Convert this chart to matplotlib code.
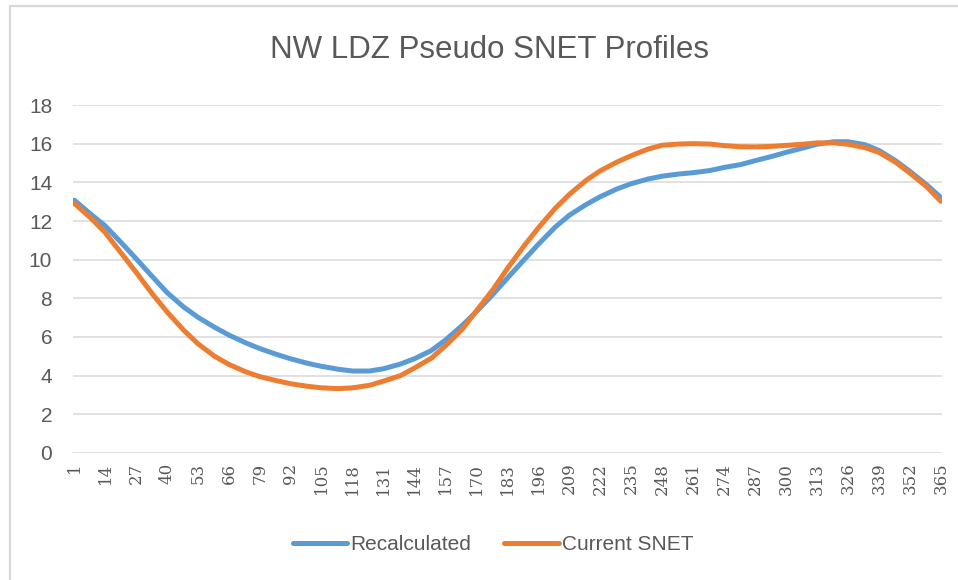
import matplotlib
matplotlib.use("Agg")
import matplotlib.pyplot as plt
from matplotlib.patches import Rectangle

# category labels on the x axis (every 13th day)
tick_days = list(range(1, 366, 13))

# days at which the two profiles are sampled
days = [1, 8, 14, 21, 27, 34, 40, 47, 53, 60, 66, 73, 79, 86, 92, 99, 105,
        112, 118, 125, 131, 138, 144, 151, 157, 164, 170, 177, 183, 190, 196,
        203, 209, 216, 222, 229, 235, 242, 248, 255, 261, 268, 274, 281, 287,
        294, 300, 307, 313, 320, 326, 333, 339, 346, 352, 359, 365]

recalculated = [13.08, 12.35, 11.75, 10.85, 10.05, 9.1, 8.3, 7.55, 7.02, 6.5,
                6.1, 5.7, 5.4, 5.1, 4.87, 4.64, 4.48, 4.33, 4.24, 4.24,
                4.36, 4.6, 4.88, 5.3, 5.85, 6.6, 7.32, 8.22, 9.05, 10.0,
                10.8, 11.68, 12.3, 12.85, 13.26, 13.66, 13.93, 14.17, 14.32,
                14.43, 14.5, 14.61, 14.77, 14.92, 15.12, 15.34, 15.55, 15.77,
                15.97, 16.1, 16.1, 15.95, 15.65, 15.12, 14.57, 13.88, 13.22]

current_snet = [12.92, 12.15, 11.4, 10.3, 9.35, 8.2, 7.3, 6.35, 5.65, 5.0,
                4.58, 4.2, 3.95, 3.74, 3.58, 3.45, 3.37, 3.33, 3.37, 3.5,
                3.72, 4.0, 4.4, 4.9, 5.55, 6.4, 7.36, 8.47, 9.55, 10.72,
                11.65, 12.65, 13.38, 14.1, 14.6, 15.05, 15.38, 15.72, 15.92,
                15.98, 16.0, 15.98, 15.9, 15.84, 15.83, 15.86, 15.91, 15.97,
                16.04, 16.04, 15.97, 15.8, 15.55, 15.04, 14.48, 13.78, 13.02]

y_ticks = list(range(0, 19, 2))

BLUE = "#5B9BD5"
ORANGE = "#ED7D31"
GRID = "#D9D9D9"
TEXT = "#595959"
SANS = ["Liberation Sans", "DejaVu Sans"]

W, H = 958, 580
fig = plt.figure(figsize=(W / 100, H / 100), dpi=100)
ax = fig.add_axes([73 / W, 127 / H, 869 / W, 348 / H])

ax.plot(days, recalculated, color=BLUE, lw=3.6, solid_capstyle="round",
        solid_joinstyle="round", label="Recalculated", zorder=3)
ax.plot(days, current_snet, color=ORANGE, lw=3.6, solid_capstyle="round",
        solid_joinstyle="round", label="Current SNET", zorder=4)

ax.set_xlim(0.5, 365.5)
ax.set_ylim(0, 18)
ax.set_yticks(y_ticks)
ax.set_xticks(tick_days)
ax.set_xticklabels([str(d) for d in tick_days], rotation=90,
                   family=["DejaVu Serif"], fontsize=12, color=TEXT)
ax.set_yticklabels([str(v) for v in y_ticks], family=SANS, fontsize=15,
                   color=TEXT)
ax.tick_params(axis="both", length=0)
ax.tick_params(axis="y", pad=15)
ax.tick_params(axis="x", pad=7)
ax.grid(axis="y", color=GRID, lw=1.1)
ax.set_axisbelow(True)
for sp in ax.spines.values():
    sp.set_visible(False)

fig.text(490 / W, 1 - 50 / H, "NW LDZ Pseudo SNET Profiles", ha="center",
         va="center", fontsize=22.5, color=TEXT, family=SANS)

leg = fig.legend(loc="center", bbox_to_anchor=(493 / W, 1 - 545 / H), ncol=2,
                 frameon=False, prop={"family": SANS, "size": 15},
                 handlelength=2.6, handletextpad=0.15, columnspacing=1.6)
for t in leg.get_texts():
    t.set_color(TEXT)

# chart frame
fig.patches.append(Rectangle((10 / W, -0.05), 1.0, 1 - 6 / H + 0.05,
                             transform=fig.transFigure, fill=False,
                             edgecolor=GRID, lw=1.6))

fig.savefig("out.png", dpi=100)
